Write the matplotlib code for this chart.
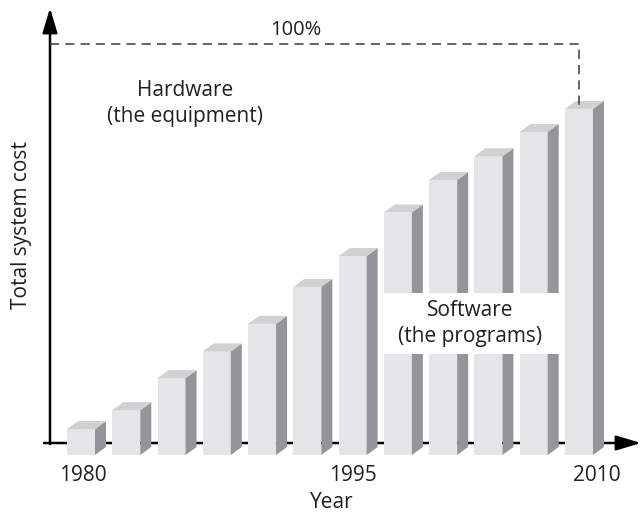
import matplotlib
matplotlib.use("Agg")
import matplotlib.pyplot as plt
from matplotlib.patches import Rectangle, Polygon

plt.rcParams["font.family"] = ["Open Sans", "DejaVu Sans"]

# software share of total system cost (%), one bar per period
software_share = [6.3, 10.9, 18.7, 25.2, 31.9, 40.9, 48.4, 59.0, 66.9, 72.7, 78.6, 84.2]
tick_labels = ["1980", "1995", "2010"]
tick_pos = [0.05, 6, 11.4]

W, H, DPI = 643, 514, 100
PX_X = 45.27   # pixels per bar step
PX_Y = 4.11    # pixels per percent
X0_PX = 81     # centre of first bar, from left
Y0_PX = 59     # bar base, from bottom

FRONT = "#e4e5e7"
SIDE = "#939598"
TOP = "#d0d1d3"
INK = "#231f20"
FS = 15

fig = plt.figure(figsize=(W / DPI, H / DPI), dpi=DPI)
ax = fig.add_axes([0, 0, 1, 1])
ax.set_xlim(-X0_PX / PX_X, (W - X0_PX) / PX_X)
ax.set_ylim(-Y0_PX / PX_Y, (H - Y0_PX) / PX_Y)
ax.axis("off")

# axes with arrow heads
arrow = dict(arrowstyle="-|>,head_length=1.5,head_width=0.45", mutation_scale=10,
             lw=1.8, color="black", shrinkA=0, shrinkB=0)
ax.annotate("", xy=(50 / W, 1 - 8 / H), xytext=(50 / W, 1 - 444 / H),
            xycoords="axes fraction", arrowprops=arrow, zorder=1)
ax.annotate("", xy=(641 / W, 1 - 443 / H), xytext=(44 / W, 1 - 443 / H),
            xycoords="axes fraction", arrowprops=arrow, zorder=1)

# pseudo-3D bars
bw = 28 / PX_X
dx = 11 / PX_X
dy = 8 / PX_Y
for i, v in enumerate(software_share):
    l, r = i - bw / 2, i + bw / 2
    ax.add_patch(Rectangle((l, 0), bw, v, fc=FRONT, ec="none", zorder=3))
    ax.add_patch(Polygon([(r, 0), (r + dx, dy), (r + dx, v + dy), (r, v)],
                         closed=True, fc=SIDE, ec="none", zorder=3))
    ax.add_patch(Polygon([(l, v), (l + dx, v + dy), (r + dx, v + dy), (r, v)],
                         closed=True, fc=TOP, ec="none", zorder=3))

# 100% reference line
last = len(software_share) - 1
ax.plot([-31 / PX_X, last, last], [100, 100, software_share[-1]],
        ls=(0, (6, 4)), lw=1.1, color="#3a3a3a", zorder=4)
ax.text(296 / PX_X - X0_PX / PX_X, 100 + 3.4, "100%", ha="center", va="center",
        fontsize=14.5, color=INK)

# label panel over the bars
ax.add_patch(Rectangle((6.6, 24.6), 4.02, 14.8, fc="white", ec="none", zorder=5))
ax.text(8.6, 31.9, "Software\n(the programs)", ha="center", va="center",
        fontsize=FS, color=INK, linespacing=1.3, zorder=6)
ax.text(2.3, 85.5, "Hardware\n(the equipment)", ha="center", va="center",
        fontsize=FS, color=INK, linespacing=1.3)

for p, lab in zip(tick_pos, tick_labels):
    ax.text(p, -4.9, lab, ha="center", va="center", fontsize=FS, color=INK)
ax.text(5.54, -11.6, "Year", ha="center", va="center", fontsize=FS, color=INK)
ax.text(-60 / PX_X, 56, "Total system cost", rotation=90, ha="center", va="center",
        fontsize=FS, color=INK)

fig.savefig("out.png", dpi=DPI)
